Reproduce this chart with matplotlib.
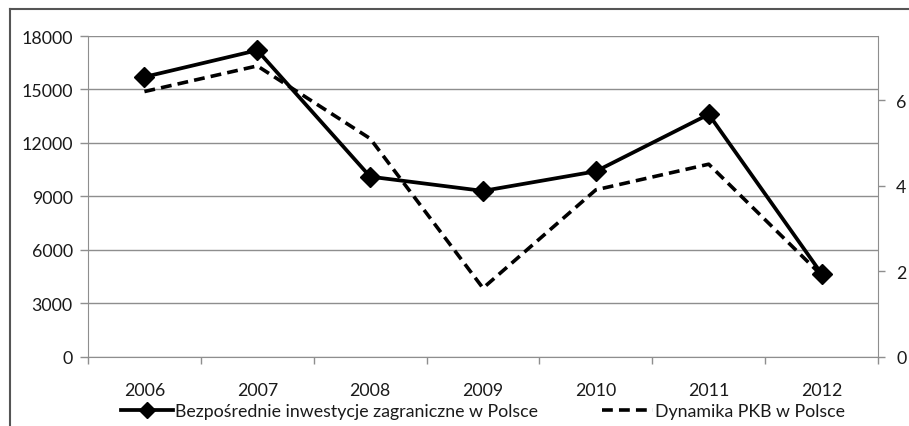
import matplotlib.pyplot as plt
from matplotlib.lines import Line2D

plt.rcParams['font.family'] = ['Lato', 'DejaVu Sans']
plt.rcParams['text.color'] = '#1a1a1a'

# dane roczne
lata = ['2006', '2007', '2008', '2009', '2010', '2011', '2012']
biz = [15700, 17200, 10100, 9300, 10400, 13600, 4650]   # mln EUR
pkb = [6.2, 6.8, 5.1, 1.6, 3.9, 4.5, 1.9]                 # %

fig = plt.figure(figsize=(9.09, 4.27), dpi=100)
ax = fig.add_axes([88/909, 1-357.5/427, 790/909, 320.5/427])
ax2 = ax.twinx()

x = range(len(lata))
ax.plot(x, biz, color='black', lw=2.7, marker='D', ms=10, zorder=3,
        label='Bezpośrednie inwestycje zagraniczne w Polsce')
ax2.plot(x, pkb, color='black', lw=2.6, ls=(0, (3.0, 1.7)),
         label='Dynamika PKB w Polsce')

grid = '#8e8e8e'
fs = 12.8
ax.set_xlim(-0.5, len(lata) - 0.5)
ax.set_ylim(0, 18000)
ax.set_yticks(range(0, 18001, 3000))
ax2.set_ylim(0, 7.5)
ax2.set_yticks([0, 2, 4, 6])
ax.yaxis.grid(True, color=grid, lw=1)
ax.set_axisbelow(True)

# znaczniki kategorii na granicach lat
ax.set_xticks([i - 0.5 for i in range(len(lata) + 1)])
ax.set_xticklabels([])
ax.set_xticks(list(x), minor=True)
ax.set_xticklabels(lata, minor=True)
ax.tick_params(axis='x', which='major', length=5, color=grid, width=1)
ax.tick_params(axis='x', which='minor', length=0, pad=18, labelsize=fs,
               labelcolor='#1a1a1a')
ax.tick_params(axis='y', length=6, color=grid, width=1, labelsize=fs, pad=5,
               labelcolor='#1a1a1a')
ax2.tick_params(axis='y', length=5, color=grid, width=1, labelsize=fs, pad=8,
                labelcolor='#1a1a1a')

for a in (ax, ax2):
    for s in a.spines.values():
        s.set_visible(False)
ax.spines['left'].set_visible(True)
ax.spines['left'].set_color(grid)
ax2.spines['right'].set_visible(True)
ax2.spines['right'].set_color(grid)
ax.spines['bottom'].set_visible(True)
ax.spines['bottom'].set_color(grid)

h1, l1 = ax.get_legend_handles_labels()
h2, l2 = ax2.get_legend_handles_labels()
leg = fig.legend(h1 + h2, l1 + l2, loc='center', bbox_to_anchor=(483/909, 1-412/427),
                 ncol=2, frameon=False, fontsize=fs, handlelength=2.9,
                 handletextpad=0.1, columnspacing=3.6, borderaxespad=0)
leg.legend_handles[0].set_markersize(8)

# ramka wykresu
fig.add_artist(Line2D([10/909, 10/909], [0, 1-10/427], color='#555555', lw=1.5))
fig.add_artist(Line2D([10/909, 1], [1-10/427, 1-10/427], color='#555555', lw=1.5))

fig.savefig('out.png', dpi=100)
